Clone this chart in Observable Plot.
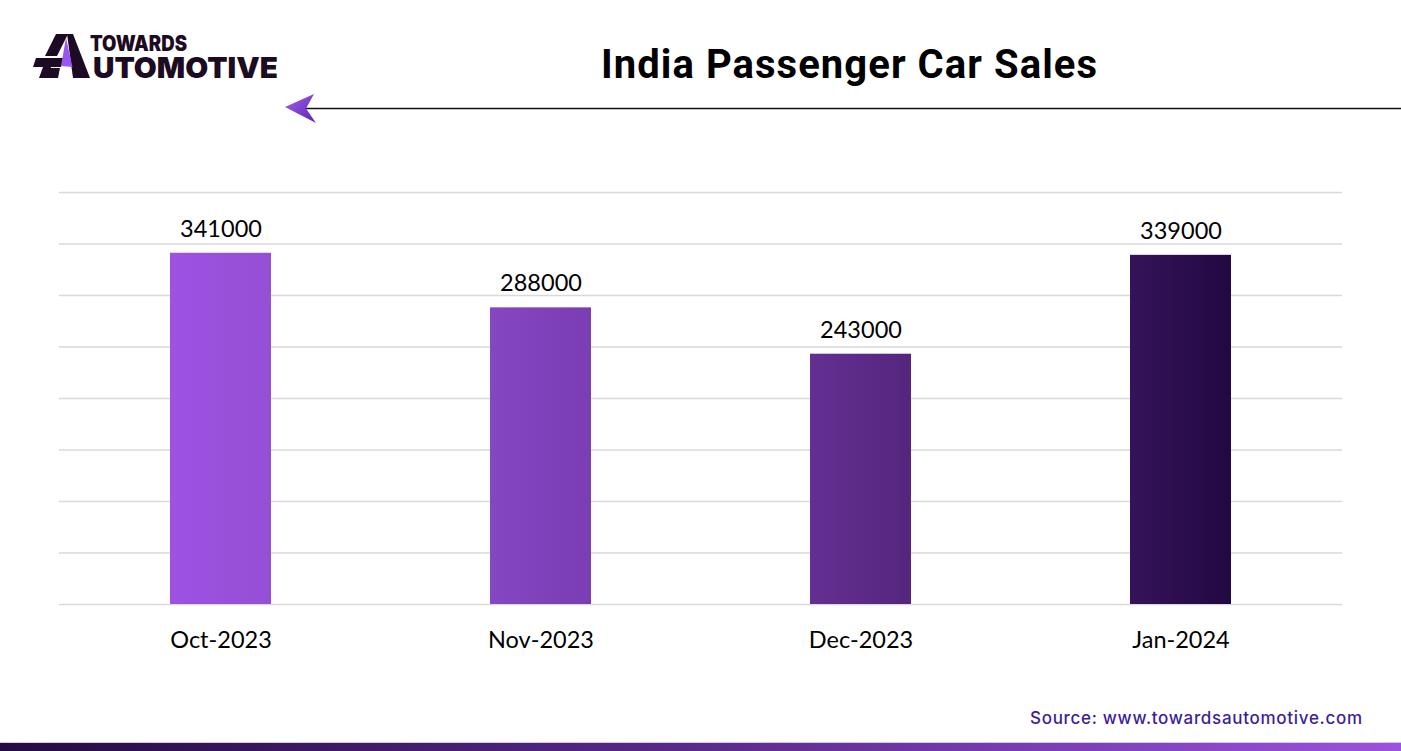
<!DOCTYPE html>
<html>
<head>
<meta charset="utf-8">
<script src="https://cdn.jsdelivr.net/npm/d3@7"></script>
<script src="https://cdn.jsdelivr.net/npm/@observablehq/plot@0.6"></script>
<style>
  html, body { margin: 0; padding: 0; background: #fff; }
  #root { position: relative; width: 1401px; height: 751px; overflow: hidden; background: #fff; }
  #chart { position: absolute; left: 0; top: 150px; }
  #overlay { position: absolute; left: 0; top: 0; }
</style>
</head>
<body>
<div id="root">
  <svg id="overlay" width="1401" height="751" xmlns="http://www.w3.org/2000/svg">
    <defs>
      <linearGradient id="arrowGrad" x1="0" y1="0" x2="1" y2="1">
        <stop offset="0" stop-color="#a45ff0"/>
        <stop offset="1" stop-color="#5a25b0"/>
      </linearGradient>
      <linearGradient id="footGrad" x1="0" y1="0" x2="1" y2="0">
        <stop offset="0" stop-color="#250a40"/>
        <stop offset="0.5" stop-color="#5a2a8c"/>
        <stop offset="1" stop-color="#9b52df"/>
      </linearGradient>
    </defs>
    <!-- logo -->
    <g fill="#1c0b22">
      <polygon points="56,34 68,34 57,56 45,56"/>
      <polygon points="36,58 64,58 61,67 51,67 48,78 39,78 43,67 33,67"/>
      <polygon points="67,34 73,34 90,78 73,78"/>
      <polygon points="50,68 60,68 58,78 47,78"/>
    </g>
    <polygon points="66,38 72.5,67 61,66" fill="#9b56f0"/>
    <text font-family="Inter, 'DejaVu Sans', sans-serif" font-weight="900" fill="#1c0b22"><tspan x="90" y="51" font-size="21" textLength="97" lengthAdjust="spacingAndGlyphs">TOWARDS</tspan><tspan x="93" y="78" font-size="29" textLength="185" lengthAdjust="spacingAndGlyphs">UTOMOTIVE</tspan></text>
    <!-- title -->
    <text x="849" y="78" text-anchor="middle" font-family="Roboto, sans-serif" font-weight="700" font-size="40" fill="#000" textLength="496" lengthAdjust="spacing">India Passenger Car Sales</text>
    <!-- arrow -->
    <line x1="306" y1="108.5" x2="1401" y2="108.5" stroke="#111" stroke-width="1.5"/>
    <polygon points="285,107 314,94 306,108.5 316,123" fill="url(#arrowGrad)"/>
    <!-- source -->
    <text x="1030" y="724" font-family="Inter, 'Open Sans', sans-serif" font-weight="500" font-size="17" fill="#3c1e9b" textLength="332" lengthAdjust="spacing">Source: www.towardsautomotive.com</text>
    <!-- footer bar -->
    <rect x="0" y="742" width="1401" height="1" fill="#d8c8e4"/>
    <rect x="0" y="743" width="1401" height="8" fill="url(#footGrad)"/>
  </svg>
  <div id="chart"></div>
</div>
<script>
const categories = ["Oct-2023", "Nov-2023", "Dec-2023", "Jan-2024"];
const sales = [341000, 288000, 243000, 339000];
const gridValues = [0, 50000, 100000, 150000, 200000, 250000, 300000, 350000, 400000];
const barColorsLeft = ["#9d52e1", "#8646c3", "#642f92", "#35135a"];
const barColorsRight = ["#954fd5", "#7a3db3", "#55267e", "#220843"];

const data = categories.map((c, i) => ({month: c, sales: sales[i]}));
const gradIds = categories.map((_, i) => `bargrad${i}`);

const chart = Plot.plot({
  width: 1401,
  height: 520,
  marginLeft: 59,
  marginRight: 59,
  marginTop: 42,
  marginBottom: 66,
  style: {fontFamily: "Lato, 'Open Sans', sans-serif", color: "#000", background: "transparent"},
  x: {domain: categories, paddingInner: 0.685, paddingOuter: 0.3425, label: null},
  y: {domain: [0, 400000], axis: null},
  color: {domain: categories, range: gradIds.map(id => `url(#${id})`)},
  marks: [
    Plot.ruleY(gridValues, {stroke: "#d9d9d9", strokeWidth: 1.3}),
    Plot.barY(data, {x: "month", y: "sales", fill: "month"}),
    Plot.text(data, {x: "month", y: "sales", text: d => String(d.sales), dy: -24, fontSize: 23.5, fill: "#000"}),
    Plot.axisX({tickSize: 0, tickPadding: 27, fontSize: 23.5, fill: "#000", label: null})
  ]
});

// gradient definitions for bars
const ns = "http://www.w3.org/2000/svg";
const defs = document.createElementNS(ns, "defs");
gradIds.forEach((id, i) => {
  const g = document.createElementNS(ns, "linearGradient");
  g.setAttribute("id", id);
  g.setAttribute("x1", "0"); g.setAttribute("y1", "0");
  g.setAttribute("x2", "1"); g.setAttribute("y2", "0");
  const s1 = document.createElementNS(ns, "stop");
  s1.setAttribute("offset", "0"); s1.setAttribute("stop-color", barColorsLeft[i]);
  const s2 = document.createElementNS(ns, "stop");
  s2.setAttribute("offset", "1"); s2.setAttribute("stop-color", barColorsRight[i]);
  g.appendChild(s1); g.appendChild(s2);
  defs.appendChild(g);
});
chart.insertBefore(defs, chart.firstChild);
document.getElementById("chart").appendChild(chart);
</script>
</body>
</html>
